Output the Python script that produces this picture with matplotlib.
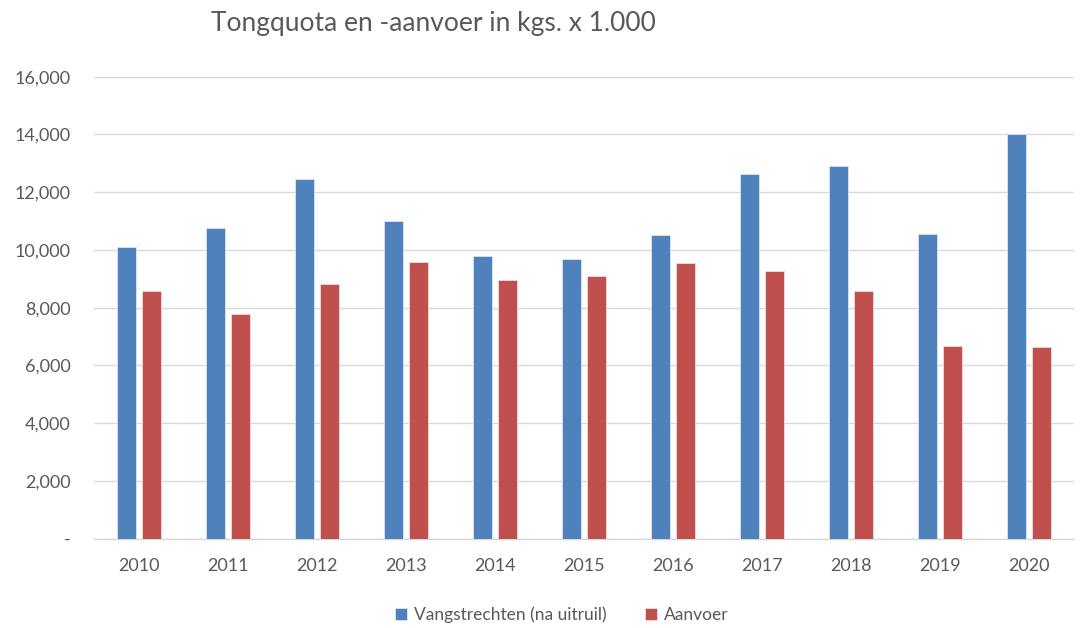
import matplotlib

matplotlib.use("Agg")
import matplotlib.pyplot as plt
import numpy as np
from matplotlib.ticker import FuncFormatter

plt.rcParams["font.family"] = ["Lato", "DejaVu Sans"]

years = ["2010", "2011", "2012", "2013", "2014", "2015", "2016", "2017", "2018", "2019", "2020"]
vangstrechten = [10100, 10760, 12450, 11010, 9790, 9680, 10510, 12640, 12900, 10560, 14000]
aanvoer = [8570, 7790, 8820, 9590, 8950, 9090, 9540, 9280, 8570, 6680, 6630]

BLUE = "#4F81BD"
RED = "#C0504D"
TEXT = "#595959"
GRID = "#D9D9D9"


def fmt(value, _pos):
    if value == 0:
        return "-"
    return f"{value:,.0f}"


fig = plt.figure(figsize=(10.86, 6.28), dpi=100)
ax = fig.add_axes([0.087, 0.1422, 0.9015, 0.7357])

x = np.arange(len(years))
width = 0.22
offset = 0.14
ax.bar(x - offset, vangstrechten, width, color=BLUE, edgecolor="#DCE6F2", linewidth=0.6,
       label="Vangstrechten (na uitruil)", zorder=3)
ax.bar(x + offset, aanvoer, width, color=RED, edgecolor="#F2DCDB", linewidth=0.6,
       label="Aanvoer", zorder=3)

ax.set_xlim(-0.5, len(years) - 0.5)
ax.set_ylim(0, 16000)
ax.set_yticks(np.arange(0, 16001, 2000))
ax.yaxis.set_major_formatter(FuncFormatter(fmt))
ax.set_xticks(x)
ax.set_xticklabels(years)
ax.grid(True, axis="y", color=GRID, lw=1.0, zorder=0)
for side in ["top", "right", "left"]:
    ax.spines[side].set_visible(False)
ax.spines["bottom"].set_color(GRID)
ax.spines["bottom"].set_linewidth(1.0)
ax.tick_params(axis="y", length=0, pad=17, labelsize=13, labelcolor=TEXT)
ax.tick_params(axis="x", length=0, pad=14, labelsize=13, labelcolor=TEXT)

fig.text(0.399, 0.963, "Tongquota en -aanvoer in kgs. x 1.000", ha="center", va="center",
         fontsize=19, color=TEXT)

fig.legend(loc="center", bbox_to_anchor=(0.517, 0.021), ncol=2, frameon=False,
           fontsize=12.5, labelcolor=TEXT, handlelength=0.7, handleheight=0.7,
           handletextpad=0.4, columnspacing=2.2)

fig.savefig("out.png", dpi=100)
